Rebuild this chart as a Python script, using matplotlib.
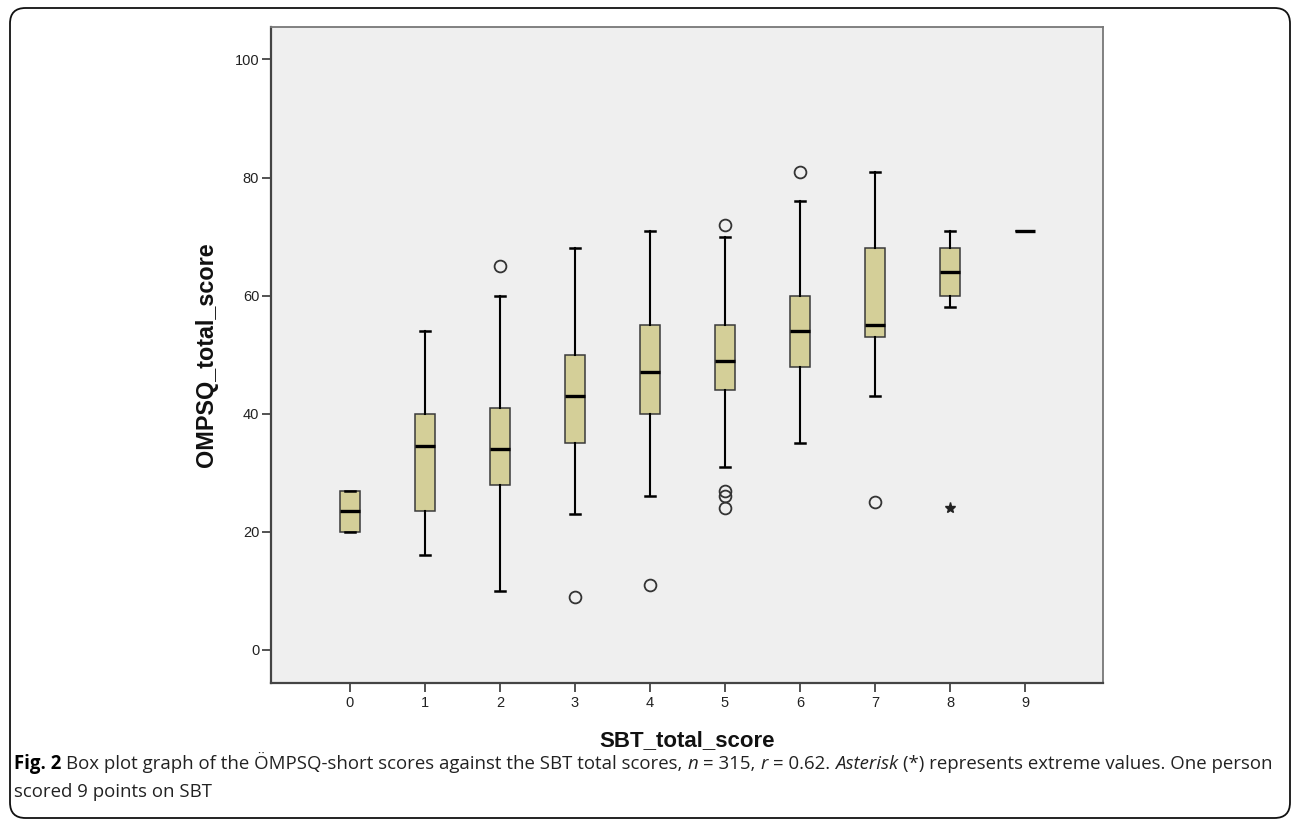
import matplotlib
matplotlib.use("Agg")
import matplotlib.pyplot as plt
from matplotlib.patches import FancyBboxPatch

# ---------------- data ----------------
categories = [0, 1, 2, 3, 4, 5, 6, 7, 8, 9]
q1      = [20, 23.5, 28, 35, 40, 44, 48, 53, 60, 71]
median  = [23.5, 34.5, 34, 43, 47, 49, 54, 55, 64, 71]
q3      = [27, 40, 41, 50, 55, 55, 60, 68, 68, 71]
whis_lo = [20, 16, 10, 23, 26, 31, 35, 43, 58, 71]
whis_hi = [27, 54, 60, 68, 71, 70, 76, 81, 71, 71]
outliers = [[], [], [65], [9], [11], [72, 27, 26, 24], [81], [25], [], []]
extreme_x = [8]
extreme_y = [24]
y_ticks = [0, 20, 40, 60, 80, 100]
x_label = "SBT_total_score"
y_label = "OMPSQ_total_score"

W, H = 1292, 822
fig = plt.figure(figsize=(W / 100, H / 100), dpi=100)
fig.patch.set_facecolor("white")

# outer rounded frame
frame = FancyBboxPatch((10 / W, 1 - 818 / H), (1290 - 10) / W, (818 - 8) / H,
                       boxstyle="round,pad=0,rounding_size=0.012",
                       transform=fig.transFigure, facecolor="none",
                       edgecolor="#111111", linewidth=1.3, mutation_aspect=W / H)
fig.add_artist(frame)

ax = fig.add_axes([271 / W, 1 - 683 / H, (1103 - 271) / W, (683 - 27) / H])
ax.set_facecolor("#efefef")

stats = []
for i, c in enumerate(categories):
    stats.append(dict(med=median[i], q1=q1[i], q3=q3[i], whislo=whis_lo[i],
                      whishi=whis_hi[i], fliers=outliers[i], label=str(c)))

ax.bxp(stats, positions=categories, widths=0.26, capwidths=0.13,
       patch_artist=True, showfliers=True,
       boxprops=dict(facecolor="#d4cf98", edgecolor="#3a3a3a", linewidth=1.1),
       medianprops=dict(color="black", linewidth=2.4, solid_capstyle="butt"),
       whiskerprops=dict(color="black", linewidth=1.5),
       capprops=dict(color="black", linewidth=1.8),
       flierprops=dict(marker="o", markerfacecolor="none", markeredgecolor="#333333",
                       markersize=8.5, markeredgewidth=1.3, linestyle="none"))

ax.plot(extreme_x, extreme_y, linestyle="none", marker="*", markersize=8,
        color="#222222")

ax.set_xlim(-1.05, 10.04)
ax.set_ylim(-5.6, 105.5)
ax.set_yticks(y_ticks)
ax.set_yticklabels([str(v) for v in y_ticks])
ax.set_xticks(categories)
ax.set_xticklabels([str(c) for c in categories])

for s in ["left", "bottom", "right", "top"]:
    ax.spines[s].set_color("#444444")
    ax.spines[s].set_linewidth(1.6)
ax.spines["top"].set_color("#777777")
ax.spines["right"].set_color("#777777")
ax.spines["top"].set_linewidth(1.3)
ax.spines["right"].set_linewidth(1.3)

ax.tick_params(axis="both", direction="out", length=6.5, width=1.3,
               color="#444444", labelcolor="#222222", labelsize=10.5)
ax.tick_params(axis="y", pad=2)
ax.tick_params(axis="x", pad=3)
for lab in ax.get_xticklabels() + ax.get_yticklabels():
    lab.set_family("Liberation Sans")

ax.set_xlabel(x_label, family="Liberation Sans", fontweight="bold",
              fontsize=16, color="#111111", labelpad=14)
ax.set_ylabel(y_label, family="Liberation Sans", fontweight="bold",
              fontsize=16.8, color="#111111", labelpad=12)

# ---------------- caption ----------------
fig.canvas.draw()
renderer = fig.canvas.get_renderer()
cap_size = 13.4
cap_family = "Open Sans"


def width_of(s, **kw):
    t = fig.text(0, 0, s, fontsize=cap_size, family=cap_family, **kw)
    w = t.get_window_extent(renderer).width
    t.remove()
    return w


space_w = width_of("x x") - width_of("xx")


def put_line(x, y, pieces):
    for s, kw in pieces:
        lead = len(s) - len(s.lstrip(" "))
        trail = len(s) - len(s.rstrip(" "))
        core = s.strip(" ")
        x += lead * space_w
        if core:
            opts = dict(color="#222222")
            opts.update(kw)
            t = fig.text(x / W, 1 - y / H, core, fontsize=cap_size,
                         family=cap_family, va="baseline", ha="left", **opts)
            x += t.get_window_extent(renderer).width
        x += trail * space_w
    return x


line1 = [("Fig. 2", dict(fontweight="bold", color="black")),
         (" Box plot graph of the ÖMPSQ-short scores against the SBT total scores, ", {}),
         ("n", dict(style="italic")),
         (" = 315, ", {}),
         ("r", dict(style="italic")),
         (" = 0.62. ", {}),
         ("Asterisk", dict(style="italic")),
         (" (*) represents extreme values. One person", {})]
line2 = [("scored 9 points on SBT", {})]

put_line(14, 769, line1)
put_line(14, 797, line2)

fig.savefig("out.png", dpi=100, facecolor="white")
